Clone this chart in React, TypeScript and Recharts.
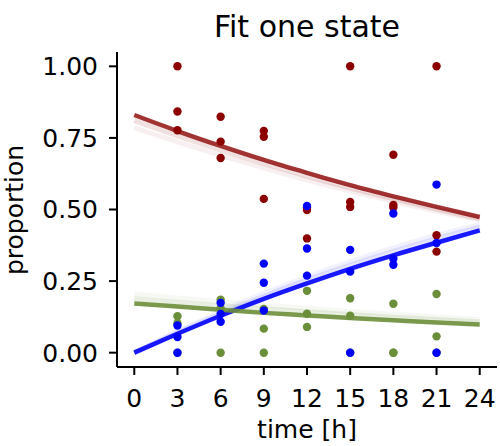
import { ComposedChart, Line, Scatter, XAxis, YAxis } from "recharts";

// sampling times of the measurements [h]
const times = [3, 6, 9, 12, 15, 18, 21];

// measured proportions, three replicates per time point
const redProportion = [
  [1.0, 0.842, 0.777],
  [0.824, 0.737, 0.68],
  [0.774, 0.754, 0.537],
  [0.506, 0.498, 0.399],
  [1.0, 0.526, 0.509],
  [0.691, 0.516, 0.507],
  [1.0, 0.41, 0.353],
];
const blueProportion = [
  [0.0, 0.055, 0.095],
  [0.174, 0.108, 0.135],
  [0.147, 0.244, 0.311],
  [0.269, 0.364, 0.512],
  [0.0, 0.283, 0.359],
  [0.307, 0.328, 0.486],
  [0.0, 0.383, 0.587],
];
const greenProportion = [
  [0.0, 0.103, 0.127],
  [0.0, 0.155, 0.185],
  [0.084, 0.0, 0.153],
  [0.216, 0.136, 0.09],
  [0.0, 0.19, 0.129],
  [0.0, 0.171, 0.0],
  [0.0, 0.205, 0.057],
];

// fitted curves
const fitTimes = [0, 3, 6, 9, 12, 15, 18, 21, 24];
const redFit = [0.83, 0.774, 0.722, 0.673, 0.628, 0.585, 0.546, 0.509, 0.474];
const blueFit = [0.0, 0.066, 0.129, 0.188, 0.242, 0.293, 0.34, 0.384, 0.427];
const greenFit = [0.172, 0.161, 0.15, 0.139, 0.13, 0.121, 0.113, 0.105, 0.098];
// faint posterior samples around the fits
const redFitLow1 = [0.81, 0.757, 0.707, 0.66, 0.616, 0.575, 0.537, 0.501, 0.468];
const redFitLow2 = [0.785, 0.736, 0.689, 0.645, 0.603, 0.564, 0.528, 0.494, 0.463];
const blueFitHigh1 = [0.0, 0.07, 0.136, 0.197, 0.254, 0.306, 0.354, 0.398, 0.438];
const blueFitHigh2 = [0.0, 0.075, 0.144, 0.207, 0.265, 0.318, 0.366, 0.41, 0.448];
const greenFitHigh1 = [0.188, 0.176, 0.164, 0.153, 0.143, 0.133, 0.124, 0.116, 0.108];
const greenFitHigh2 = [0.205, 0.191, 0.178, 0.166, 0.155, 0.144, 0.134, 0.125, 0.116];

const xTicks = [0, 3, 6, 9, 12, 15, 18, 21, 24];
const yTicks = [0, 0.25, 0.5, 0.75, 1.0];

const RED = "#8b0000";
const BLUE = "#0000ff";
const GREEN = "#6b8e3a";

const FONT = "'DejaVu Sans', sans-serif";

function points(values: number[][]) {
  return values.flatMap((reps, i) => reps.map((v) => ({ t: times[i], v })));
}

function curve(values: number[]) {
  return values.map((v, i) => ({ t: fitTimes[i], v }));
}

function dot(color: string) {
  return (p: any) => <circle cx={p.cx} cy={p.cy} r={4.2} fill={color} />;
}

function fitLine(values: number[], color: string, opacity: number, width: number) {
  return (
    <Line
      data={curve(values)}
      dataKey="v"
      type="monotone"
      stroke={color}
      strokeOpacity={opacity}
      strokeWidth={width}
      dot={false}
      isAnimationActive={false}
    />
  );
}

const W = 500;
const H = 446;

export default function App() {
  const tick = { fontSize: 25, fill: "#000", fontFamily: FONT };
  return (
    <div style={{ position: "absolute", left: 0, top: 0, width: W, height: H, background: "#fff" }}>
      <ComposedChart width={W} height={H} margin={{ top: 52, right: 3, left: 0, bottom: 0 }}>
        <XAxis
          type="number"
          dataKey="t"
          domain={[-1.2, 25.2]}
          ticks={xTicks}
          allowDataOverflow
          height={79}
          tick={tick}
          tickSize={8}
          tickMargin={14}
          axisLine={{ stroke: "#000", strokeWidth: 2 }}
          tickLine={{ stroke: "#000", strokeWidth: 2 }}
        />
        <YAxis
          type="number"
          dataKey="v"
          domain={[-0.05, 1.05]}
          ticks={yTicks}
          allowDataOverflow
          width={117}
          tick={tick}
          tickSize={8}
          tickMargin={11}
          tickFormatter={(v: number) => v.toFixed(2)}
          axisLine={{ stroke: "#000", strokeWidth: 2 }}
          tickLine={{ stroke: "#000", strokeWidth: 2 }}
        />
        {fitLine(redFitLow2, RED, 0.06, 5)}
        {fitLine(redFitLow1, RED, 0.12, 5)}
        {fitLine(blueFitHigh2, BLUE, 0.05, 5)}
        {fitLine(blueFitHigh1, BLUE, 0.1, 5)}
        {fitLine(greenFitHigh2, GREEN, 0.06, 5)}
        {fitLine(greenFitHigh1, GREEN, 0.14, 5)}
        {fitLine(redFit, RED, 0.8, 4.5)}
        {fitLine(blueFit, BLUE, 0.9, 4.5)}
        {fitLine(greenFit, GREEN, 0.9, 4.5)}
        <Scatter data={points(redProportion)} dataKey="v" shape={dot(RED)} isAnimationActive={false} />
        <Scatter data={points(greenProportion)} dataKey="v" shape={dot(GREEN)} isAnimationActive={false} />
        <Scatter data={points(blueProportion)} dataKey="v" shape={dot(BLUE)} isAnimationActive={false} />
      </ComposedChart>
      <svg width={W} height={H} style={{ position: "absolute", left: 0, top: 0, pointerEvents: "none" }}>
        <text x={307} y={37} textAnchor="middle" fontSize={30} fontFamily={FONT} fill="#000">
          Fit one state
        </text>
        <text x={307} y={438} textAnchor="middle" fontSize={25} fontFamily={FONT} fill="#000">
          time [h]
        </text>
        <text
          x={0}
          y={0}
          transform="translate(23,210) rotate(-90)"
          textAnchor="middle"
          fontSize={25}
          fontFamily={FONT}
          fill="#000"
        >
          proportion
        </text>
      </svg>
    </div>
  );
}
